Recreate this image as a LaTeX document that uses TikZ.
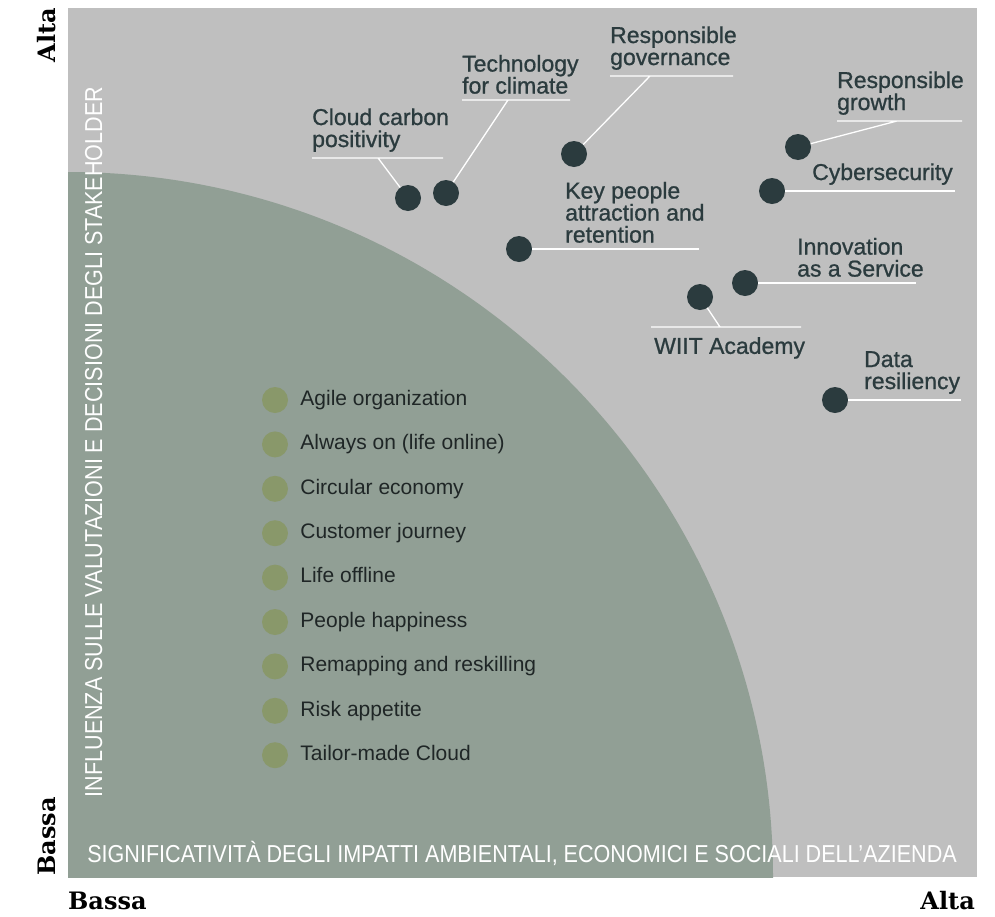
\documentclass[tikz,border=0pt]{standalone}
\usepackage{fontspec}
\setmainfont{Liberation Sans}
\newfontfamily\lblfont{Liberation Sans}[FakeBold=0.9]
\newfontfamily\slabfont{DejaVu Serif}
\usepackage{tikz}
\usetikzlibrary{positioning}
\definecolor{panelgray}{HTML}{BFBFBF}
\definecolor{zonegreen}{HTML}{919F95}
\definecolor{dotdark}{HTML}{2B3B3E}
\definecolor{legdot}{HTML}{89986A}
\definecolor{legtext}{HTML}{1F2626}

\begin{document}
\begin{tikzpicture}[
		x=1pt, y=-1pt,
		dot/.style = {circle, fill=dotdark, minimum size=26pt, inner sep=0pt},% topic markers
		ldot/.style = {circle, fill=legdot, minimum size=26pt, inner sep=0pt},% legend markers
		lbl/.style = {anchor=south west, align=left, text=dotdark,
			inner xsep=0pt, inner ysep=6pt,
			font=\lblfont\fontsize{23}{22}\selectfont},
		ltxt/.style = {text=legtext, inner sep=0pt, text height=14.5pt, text depth=4pt,
			font=\fontsize{21}{22}\selectfont},
		rule/.style = {draw=white, line width=1.3pt},
		axis/.style = {text=white, inner sep=0pt, xscale=0.88,
			font=\fontsize{24.5}{24}\selectfont},
		level/.style = {inner sep=0pt, font=\slabfont\bfseries\fontsize{24}{24}\selectfont},
		]
		\fill[white] (0,0) rectangle (995,916);
		\useasboundingbox (0,0) rectangle (995,916);
		% panel and low-relevance zone
		\fill[panelgray] (68,8) rectangle (977,877);
		\begin{scope}
			\clip (68,8) rectangle (977,877);
			\fill[zonegreen] (68,877) circle[radius=705pt];
		\end{scope}
		% axis titles
		\node[rotate=90, axis, anchor=base] (ytitle) at (102,442) {INFLUENZA SULLE VALUTAZIONI E DECISIONI DEGLI STAKEHOLDER};
		\node[axis, anchor=base] (xtitle) at (522,862) {SIGNIFICATIVITÀ DEGLI IMPATTI AMBIENTALI, ECONOMICI E SOCIALI DELL’AZIENDA};
		\node[level, anchor=base west] (xlow) at (68,909) {Bassa};
		\node[level, anchor=base east] (xhigh) at (975,909) {Alta};
		\node[level, rotate=90, anchor=base west] (ylow) at (55,876) {Bassa};
		\node[level, rotate=90, anchor=base east] (yhigh) at (55,8) {Alta};
		% material topics
		\node[dot] (cc) at (408,198) {};
		\node[dot] (tc) at (446,193) {};
		\node[dot] (rg) at (574,154) {};
		\node[dot] (gr) at (798,147) {};
		\node[dot] (cs) at (772,191) {};
		\node[dot] (kp) at (519,249) {};
		\node[dot] (ia) at (745,283) {};
		\node[dot] (wa) at (700,297) {};
		\node[dot] (dr) at (835,400) {};
		% underlines of the labels
		\coordinate (cc-a) at (312,158); \coordinate (cc-b) at (443,158); \coordinate (cc-k) at (378,158);
		\coordinate (tc-a) at (462,100); \coordinate (tc-b) at (570,100); \coordinate (tc-k) at (508,100);
		\coordinate (rg-a) at (610,76);  \coordinate (rg-b) at (733,76);  \coordinate (rg-k) at (650,76);
		\coordinate (gr-a) at (837,121); \coordinate (gr-b) at (962,121); \coordinate (gr-k) at (897,121);
		\coordinate (cs-a) at (812,191); \coordinate (cs-b) at (955,191);
		\coordinate (kp-a) at (565,249); \coordinate (kp-b) at (699,249);
		\coordinate (ia-a) at (797,283); \coordinate (ia-b) at (916,283);
		\coordinate (wa-a) at (651,327); \coordinate (wa-b) at (801,327); \coordinate (wa-k) at (720,327);
		\coordinate (dr-a) at (864,400); \coordinate (dr-b) at (961,400);
		\draw[rule] (cc-a) -- (cc-b) (cc-k) -- (cc);
		\draw[rule] (tc-a) -- (tc-b) (tc-k) -- (tc);
		\draw[rule] (rg-a) -- (rg-b) (rg-k) -- (rg);
		\draw[rule] (gr-a) -- (gr-b) (gr-k) -- (gr);
		\draw[rule] (cs) -- (cs-b);
		\draw[rule] (kp) -- (kp-b);
		\draw[rule] (ia) -- (ia-b);
		\draw[rule] (wa-a) -- (wa-b) (wa-k) -- (wa);
		\draw[rule] (dr) -- (dr-b);
		% labels
		\node[lbl] (cc-t) at (cc-a) {Cloud carbon\\positivity};
		\node[lbl] (tc-t) at (tc-a) {Technology\\for climate};
		\node[lbl] (rg-t) at (rg-a) {Responsible\\governance};
		\node[lbl] (gr-t) at (gr-a) {Responsible\\growth};
		\node[lbl] (cs-t) at (cs-a) {Cybersecurity};
		\node[lbl] (kp-t) at (kp-a) {Key people\\attraction and\\retention};
		\node[lbl] (ia-t) at (ia-a) {Innovation\\as a Service};
		\node[lbl, inner ysep=0pt, below right=10pt and 3pt of wa-a] (wa-t) {WIIT Academy};
		\node[lbl] (dr-t) at (dr-a) {Data\\resiliency};
		% legend of the low-relevance topics
		\foreach \txt [count=\i from 0] in {Agile organization, Always on (life online),
			Circular economy, Customer journey, Life offline, People happiness,
			Remapping and reskilling, Risk appetite, Tailor-made Cloud}{
			\node[ldot] (leg\i) at (275,{400+44.4*\i}) {};
			\node[ltxt, right=12pt of leg\i] (legt\i) {\txt};
		}
\end{tikzpicture}
\end{document}
